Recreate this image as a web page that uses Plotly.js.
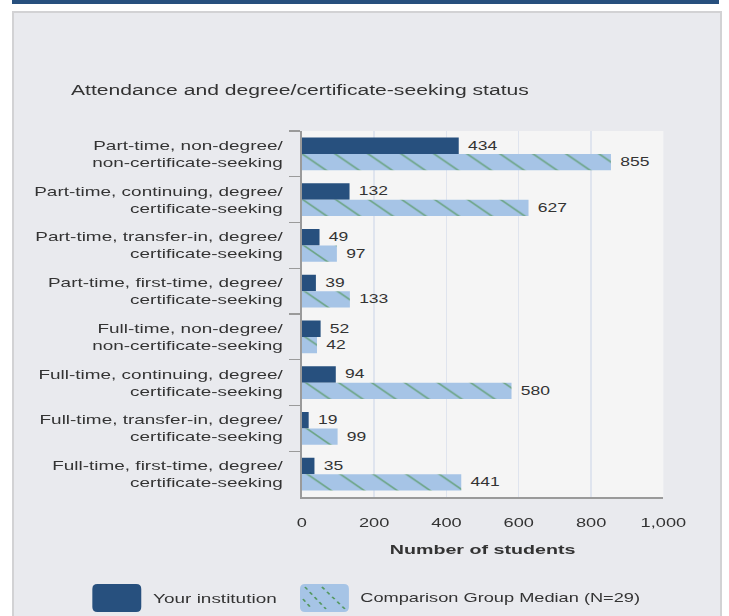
<!DOCTYPE html>
<html>
<head>
<meta charset="utf-8">
<script src="https://cdn.plot.ly/plotly-3.0.1.min.js"></script>
<style>
  html, body { margin: 0; padding: 0; background: #ffffff; width: 729px; height: 616px; overflow: hidden; }
  #band { position: absolute; left: 12px; top: 0; width: 707px; height: 4px; background: #27507e; }
  #panel { position: absolute; left: 12px; top: 11px; width: 706px; height: 610px; background: #e9eaee;
           border-left: 2px solid #d2d2d4; border-top: 2px solid #d2d2d4; border-right: 2px solid #d2d2d4; }
  /* the reference is drawn horizontally stretched; reproduce by stretching the whole figure */
  #chart { position: absolute; left: 0; top: 0; width: 500px; height: 616px;
           transform: scaleX(1.458); transform-origin: 0 0; }
</style>
</head>
<body>
<div id="band"></div>
<div id="panel"></div>
<div id="chart"></div>
<script>
// ---- data ----
const categories = [
  "Part-time, non-degree/<br>non-certificate-seeking",
  "Part-time, continuing, degree/<br>certificate-seeking",
  "Part-time, transfer-in, degree/<br>certificate-seeking",
  "Part-time, first-time, degree/<br>certificate-seeking",
  "Full-time, non-degree/<br>non-certificate-seeking",
  "Full-time, continuing, degree/<br>certificate-seeking",
  "Full-time, transfer-in, degree/<br>certificate-seeking",
  "Full-time, first-time, degree/<br>certificate-seeking"
];
const yourInstitution = [434, 132, 49, 39, 52, 94, 19, 35];
const comparisonMedian = [855, 627, 97, 133, 42, 580, 99, 441];
const seriesNames = ["Your institution", "Comparison Group Median (N=29)"];
const xTickValues = [0, 200, 400, 600, 800, 1000];
const chartTitle = "Attendance and degree/certificate-seeking status";
const xTitle = "Number of students";

// ---- styles / geometry (unstretched figure coordinates) ----
const S = 1.458;               // horizontal stretch applied by CSS
const W = 500, H = 616;
const M = { l: 207, r: 44.6, t: 131, b: 119 };
const darkBlue = "#27507e";
const lightBlue = "#a6c4e6";
const hatch = "#3a8a34";
const textColor = "#333333";
const FONT = "Liberation Sans, Arial, sans-serif";

const plotW = W - M.l - M.r, plotH = H - M.t - M.b;
const px2x = px => (px / S - M.l) / plotW;      // px = final (stretched) pixel x
const py2y = py => (H - M.b - py) / plotH;

function roundRect(x0, y0, x1, y1, r) {
  const rx = r / S;
  const X = v => (v - M.l) / plotW, Y = v => py2y(v);
  const a = x0 / S, b = x1 / S;
  return `M${X(a + rx)},${Y(y0)} L${X(b - rx)},${Y(y0)} Q${X(b)},${Y(y0)} ${X(b)},${Y(y0 + r)} ` +
         `L${X(b)},${Y(y1 - r)} Q${X(b)},${Y(y1)} ${X(b - rx)},${Y(y1)} L${X(a + rx)},${Y(y1)} ` +
         `Q${X(a)},${Y(y1)} ${X(a)},${Y(y1 - r)} L${X(a)},${Y(y0 + r)} Q${X(a)},${Y(y0)} ${X(a + rx)},${Y(y0)} Z`;
}

const traces = [
  {
    type: "bar", orientation: "h", name: seriesNames[0],
    y: categories, x: yourInstitution,
    marker: { color: darkBlue, line: { width: 0 } },
    texttemplate: "\u00a0%{x}", textposition: "outside",
    textfont: { family: FONT, size: 12, color: textColor },
    cliponaxis: false, hoverinfo: "x+name"
  },
  {
    type: "bar", orientation: "h", name: seriesNames[1],
    y: categories, x: comparisonMedian,
    marker: { color: lightBlue, line: { width: 0 },
      pattern: { shape: "\\", bgcolor: lightBlue, fgcolor: hatch, fgopacity: 0.55, size: 16, solidity: 0.09 } },
    texttemplate: "\u00a0%{x}", textposition: "outside",
    textfont: { family: FONT, size: 12, color: textColor },
    cliponaxis: false, hoverinfo: "x+name"
  }
];

// legend drawn as shapes + annotations (final pixel positions)
const lg1x = 92, lg2x = 300, lgTop = 584, lgBot = 612, lgW = 49;
const shapes = [
  { type: "path", xref: "paper", yref: "paper", path: roundRect(lg1x, lgTop, lg1x + lgW, lgBot, 5),
    fillcolor: darkBlue, line: { width: 0 }, layer: "above" },
  { type: "path", xref: "paper", yref: "paper", path: roundRect(lg2x, lgTop, lg2x + lgW, lgBot, 5),
    fillcolor: lightBlue, line: { width: 0 }, layer: "above" }
];
[[lg2x + 5, lgTop + 3, lg2x + 26, lgBot - 3], [lg2x + 22, lgTop + 3, lg2x + 45, lgBot - 3], [lg2x + 3, lgTop + 15, lg2x + 12, lgBot - 3]].forEach(s => {
  shapes.push({ type: "line", xref: "paper", yref: "paper",
    x0: px2x(s[0]), y0: py2y(s[1]), x1: px2x(s[2]), y1: py2y(s[3]),
    line: { color: hatch, width: 1.3, dash: "dot" }, opacity: 0.75, layer: "above" });
});

const annotations = [
  { xref: "paper", yref: "paper", x: px2x(150), y: py2y((lgTop + lgBot) / 2), xanchor: "left", yanchor: "middle",
    text: seriesNames[0], showarrow: false, font: { family: FONT, size: 13, color: textColor } },
  { xref: "paper", yref: "paper", x: px2x(357), y: py2y((lgTop + lgBot) / 2), xanchor: "left", yanchor: "middle",
    text: seriesNames[1], showarrow: false, font: { family: FONT, size: 12.5, color: textColor } }
];

const layout = {
  width: W, height: H,
  margin: M,
  paper_bgcolor: "rgba(0,0,0,0)",
  plot_bgcolor: "#f5f5f5",
  font: { family: FONT, size: 13, color: textColor },
  showlegend: false,
  barmode: "group",
  bargap: 0.28,
  bargroupgap: 0,
  title: { text: chartTitle, xref: "container", yref: "container", x: (71 / S) / W, xanchor: "left",
           y: 1 - 90 / H, yanchor: "middle", font: { family: FONT, size: 14.5, color: textColor } },
  xaxis: {
    range: [0, 1000], tickvals: xTickValues, tickformat: ",d",
    showgrid: true, gridcolor: "#dfe4ee", gridwidth: 1, zeroline: false,
    showline: true, linecolor: "#9a9a9a", linewidth: 1.5,
    ticks: "", ticklabelstandoff: 14,
    tickfont: { family: FONT, size: 12.5, color: textColor },
    title: { text: xTitle, standoff: 15, font: { family: FONT, size: 13.5, color: textColor, weight: "bold" } },
    fixedrange: true
  },
  yaxis: {
    type: "category", autorange: "reversed",
    tickson: "boundaries", ticks: "outside", ticklen: 7.5, tickwidth: 1.3, tickcolor: "#9a9a9a",
    ticklabelstandoff: 9,
    showline: true, linecolor: "#9a9a9a", linewidth: 1.4,
    showgrid: false, zeroline: false,
    tickfont: { family: FONT, size: 13, color: textColor },
    fixedrange: true
  },
  shapes: shapes,
  annotations: annotations
};

Plotly.newPlot("chart", traces, layout, { displayModeBar: false, staticPlot: true });
</script>
</body>
</html>
